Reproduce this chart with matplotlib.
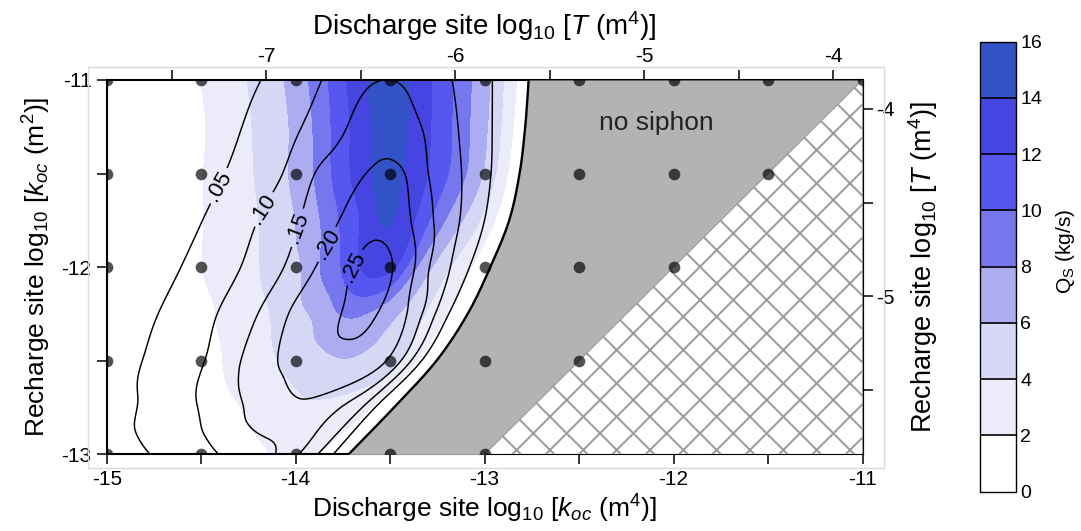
import numpy as np
import matplotlib
matplotlib.use('Agg')
import matplotlib.pyplot as plt
from matplotlib.patches import Rectangle

plt.rcParams['font.family'] = ['Liberation Sans', 'DejaVu Sans']
plt.rcParams['mathtext.fontset'] = 'custom'
plt.rcParams['mathtext.rm'] = 'Liberation Sans'
plt.rcParams['mathtext.it'] = 'Liberation Sans:italic'
plt.rcParams['axes.unicode_minus'] = False
plt.rcParams['hatch.linewidth'] = 1.4

# recharge site permeability rows (log10 m^2)
recharge_k = np.array([-13.0, -12.75, -12.5, -12.25, -12.0, -11.75, -11.5, -11.25, -11.0])
# discharge permeability where the siphon shuts off, one per recharge row
siphon_limit = np.array([-13.72, -13.48, -13.255, -13.09, -12.97, -12.87, -12.815, -12.785, -12.767])
# columns: how far below the shut-off limit the discharge permeability sits
depth = np.array([0, 0.05, 0.1, 0.2, 0.3, 0.4, 0.5, 0.6, 0.7, 0.8, 0.9, 1.0, 1.1, 1.25, 1.4, 1.6, 1.8, 2.3])

# siphon discharge Q_S (kg/s)
q_s = np.array([
    [0, 0.5, 1.2, 2.35, 2.6, 2.1, 1.6, 1.2, 0.9, 0.6, 0.4, 0.3, 0.2, 0.1, 0.05, 0, 0, 0],
    [0, 0.8, 1.7, 2.9, 3.4, 3.6, 3.55, 3.1, 2.6, 2.05, 1.6, 1.2, 0.8, 0.4, 0.2, 0.05, 0, 0],
    [0, 0.9, 1.9, 4.2, 5.2, 5.7, 5.9, 5.6, 5.0, 4.3, 3.6, 2.9, 2.2, 1.3, 0.7, 0.3, 0.1, 0],
    [0, 0.9, 1.8, 3.5, 5.2, 6.4, 7.6, 8.3, 7.8, 6.4, 5.5, 4.4, 3.6, 2.6, 1.6, 0.8, 0.4, 0.05],
    [0, 1.0, 2.0, 3.8, 5.8, 8.3, 11.9, 12.8, 11.8, 9.8, 8.0, 6.0, 5.1, 3.75, 2.75, 1.6, 0.9, 0.1],
    [0, 1.3, 2.6, 5.0, 7.1, 9.4, 12.0, 13.9, 13.9, 11.8, 10.0, 8.0, 6.4, 4.7, 3.4, 2.1, 1.1, 0.15],
    [0, 1.55, 3.2, 6.1, 8.35, 10.45, 12.2, 13.65, 15.0, 13.6, 11.9, 9.9, 7.8, 5.65, 4.05, 2.6, 1.3, 0.2],
    [0, 1.55, 3.1, 6.0, 8.1, 10.2, 12.0, 13.55, 15.3, 14.2, 12.5, 10.6, 8.45, 6.0, 4.4, 2.8, 1.4, 0.2],
    [0, 1.6, 3.05, 5.9, 7.95, 9.95, 11.75, 13.4, 15.4, 15.0, 13.1, 11.3, 9.2, 6.6, 4.8, 3.1, 1.7, 0.2],
])

# fraction shown by the labelled black contours
frac = np.array([
    [0, 0.031, 0.061, 0.12, 0.16, 0.148, 0.13, 0.115, 0.098, 0.083, 0.07, 0.056, 0.045, 0.032, 0.024, 0.015, 0.01, 0.005],
    [0, 0.025, 0.05, 0.12, 0.155, 0.178, 0.19, 0.186, 0.172, 0.149, 0.128, 0.107, 0.09, 0.067, 0.045, 0.03, 0.02, 0.01],
    [0, 0.031, 0.067, 0.16, 0.215, 0.236, 0.237, 0.228, 0.218, 0.207, 0.187, 0.16, 0.132, 0.095, 0.072, 0.045, 0.03, 0.012],
    [0, 0.025, 0.05, 0.12, 0.19, 0.226, 0.255, 0.266, 0.242, 0.226, 0.21, 0.187, 0.153, 0.115, 0.087, 0.055, 0.036, 0.015],
    [0, 0.023, 0.045, 0.095, 0.137, 0.20, 0.245, 0.265, 0.255, 0.233, 0.207, 0.178, 0.148, 0.114, 0.086, 0.055, 0.035, 0.015],
    [0, 0.019, 0.038, 0.077, 0.114, 0.15, 0.192, 0.228, 0.24, 0.228, 0.20, 0.176, 0.152, 0.117, 0.087, 0.053, 0.035, 0.015],
    [0, 0.016, 0.033, 0.066, 0.098, 0.126, 0.156, 0.198, 0.211, 0.202, 0.184, 0.166, 0.146, 0.101, 0.075, 0.045, 0.03, 0.012],
    [0, 0.014, 0.029, 0.057, 0.085, 0.112, 0.139, 0.160, 0.175, 0.176, 0.160, 0.136, 0.116, 0.088, 0.065, 0.037, 0.025, 0.01],
    [0, 0.013, 0.026, 0.052, 0.076, 0.099, 0.122, 0.140, 0.149, 0.149, 0.140, 0.122, 0.099, 0.075, 0.052, 0.032, 0.022, 0.01],
])

q_levels = [0, 2, 4, 6, 8, 10, 12, 14, 16]
q_colors = ['#ffffff', '#ebebfa', '#d6d6f5', '#acacf0', '#7676ef', '#5656f0', '#4545e2', '#3352c7']
frac_levels = [0.05, 0.10, 0.15, 0.20, 0.25]
label_spots = [(-14.40, -11.57), (-14.17, -11.69), (-13.99, -11.79), (-13.83, -11.88), (-13.66, -12.02)]

# simulated cases
sim_discharge = np.arange(-15.0, -10.9, 0.5)
sim_recharge = np.arange(-13.0, -10.9, 0.5)

T_SHIFT = 7.155  # log10 T = log10 k + shift


def spline_up(a, n, axis):
    # Catmull-Rom refinement of a table along one axis
    a = np.moveaxis(np.asarray(a, float), axis, 0)
    pad = np.concatenate([2 * a[:1] - a[1:2], a, 2 * a[-1:] - a[-2:-1]])
    m = a.shape[0]
    t = np.linspace(0, m - 1, (m - 1) * n + 1)
    i = np.minimum(t.astype(int), m - 2)
    s = (t - i).reshape((-1,) + (1,) * (a.ndim - 1))
    p0, p1, p2, p3 = pad[i], pad[i + 1], pad[i + 2], pad[i + 3]
    out = 0.5 * (2 * p1 + (p2 - p0) * s + (2 * p0 - 5 * p1 + 4 * p2 - p3) * s ** 2
                 + (3 * p1 - p0 - 3 * p2 + p3) * s ** 3)
    return np.moveaxis(out, 0, axis)


def refine(a):
    return spline_up(spline_up(a, 16, 0), 10, 1)


kx = siphon_limit[:, None] - depth[None, :]
ky = recharge_k[:, None] + 0 * depth[None, :]
KX, KY = refine(kx), refine(ky)
Q, F = refine(q_s), refine(frac)

fig = plt.figure(figsize=(10.81, 5.31), dpi=100)
fig.add_artist(Rectangle((0.0814, 0.1186), 0.7363, 0.7552, transform=fig.transFigure,
                         fill=False, ec='#dadada', lw=1))
ax = fig.add_axes([0.0987, 0.1443, 0.6992, 0.7051])

cf = ax.contourf(KX, KY, Q, levels=q_levels, colors=q_colors, zorder=1)
cs = ax.contour(KX, KY, F, levels=frac_levels, colors='black', linewidths=1.05, zorder=2)
ax.clabel(cs, fmt={v: f'{v:.2f}'.lstrip('0') for v in frac_levels}, manual=label_spots,
          inline=True, inline_spacing=5, fontsize=16)

# no-siphon zone between the shut-off curve and k_discharge = k_recharge
bx, by = KX[:, 0], KY[:, 0]
ax.fill_betweenx(by, bx, by, color='#b3b3b3', lw=0, zorder=3)
ax.plot(bx, by, color='black', lw=1.7, zorder=4)
diag = np.array([-13.0, -11.0])
ax.fill_between(diag, -13.0, diag, facecolor='white', edgecolor='#9a9a9a', hatch='x',
                lw=0.8, zorder=3)

gx, gy = np.meshgrid(sim_discharge, sim_recharge)
keep = gx <= gy + 1e-9
ax.plot(gx[keep], gy[keep], 'o', ms=8.4, color='black', alpha=0.68, mec='none', zorder=5)

ax.text(-12.09, -11.23, 'no siphon', fontsize=19, color='#222222', ha='center', va='center', zorder=6)

ax.set_xlim(-15, -11)
ax.set_ylim(-13, -11)
xt = np.arange(-15.0, -10.9, 0.5)
ax.set_xticks(xt)
ax.set_xticklabels([f'{v:.0f}' if v == int(v) else '' for v in xt])
yt = np.arange(-13.0, -10.9, 0.5)
ax.set_yticks(yt)
ax.set_yticklabels([f'{v:.0f}' if v == int(v) else '' for v in yt])
ax.tick_params(direction='out', length=7, width=1.1, labelsize=15, pad=4)
for sp in ax.spines.values():
    sp.set_linewidth(1.5)
ax.set_xlabel(r'Discharge site log$_{10}$ [$k_{oc}$ (m$^4$)]', fontsize=19, labelpad=3)
ax.set_ylabel(r'Recharge site log$_{10}$ [$k_{oc}$ (m$^2$)]', fontsize=19, labelpad=6)

top = ax.secondary_xaxis('top', functions=(lambda k: k + T_SHIFT, lambda t: t - T_SHIFT))
tt = np.arange(-7.5, -3.9, 0.5)
top.set_xticks(tt)
top.set_xticklabels([f'{v:.0f}' if v == int(v) else '' for v in tt])
top.tick_params(direction='out', length=7, width=1.1, labelsize=15, pad=3)
top.set_xlabel(r'Discharge site log$_{10}$ [$T$ (m$^4$)]', fontsize=20, labelpad=9)

right = ax.secondary_yaxis('right', functions=(lambda k: k + T_SHIFT, lambda t: t - T_SHIFT))
rt = np.arange(-5.5, -3.9, 0.5)
right.set_yticks(rt)
right.set_yticklabels([f'{v:.0f}' if v == int(v) else '' for v in rt])
right.tick_params(direction='out', length=7, width=1.1, labelsize=15, pad=3)
right.set_ylabel(r'Recharge site log$_{10}$ [$T$ (m$^4$)]', fontsize=19.5, labelpad=8)

cax = fig.add_axes([0.9066, 0.074, 0.0333, 0.8475])
cb = fig.colorbar(cf, cax=cax, drawedges=True)
cb.outline.set_linewidth(1.0)
cb.dividers.set_linewidth(1.2)
cb.set_ticks(q_levels)
cb.ax.tick_params(length=0, labelsize=14, pad=3)
cb.set_label(r'Q$_\mathrm{S}$ (kg/s)', fontsize=15)
cb.ax.yaxis.set_label_coords(2.05, 0.535)

fig.savefig('out.png', dpi=100)
